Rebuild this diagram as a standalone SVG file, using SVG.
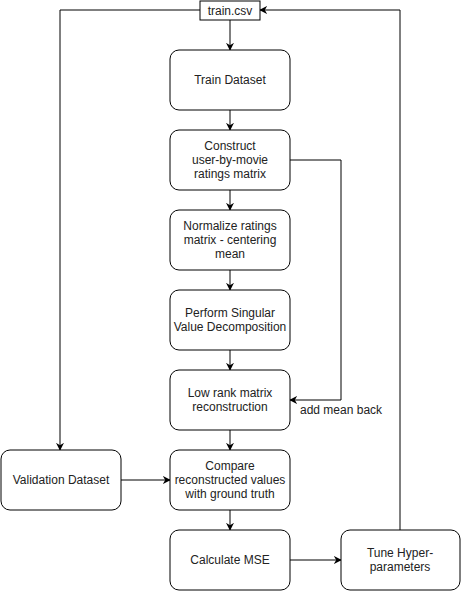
<svg xmlns="http://www.w3.org/2000/svg" width="461" height="591" viewBox="0 0 461 591">
<defs>
<marker id="ah" viewBox="0 0 10 10" refX="9" refY="5" markerWidth="8" markerHeight="8" markerUnits="userSpaceOnUse" orient="auto"><path d="M0,0 L10,5 L0,10 L3,5 Z" fill="#000"/></marker>
<style>
.n rect{fill:#fff;stroke:#000;stroke-width:1}
.n text{font-family:"Liberation Sans",Arial,sans-serif;font-size:12px;fill:#222;text-anchor:middle}
.c path{fill:none;stroke:#000;stroke-width:1;marker-end:url(#ah)}
.lbl{font-family:"Liberation Sans",Arial,sans-serif;font-size:12px;fill:#222}
</style>
</defs>
<rect width="461" height="591" fill="#fff"/>
<g class="c" id="connectors">
<path d="M230,20 V50"/>
<path d="M230,110 V130"/>
<path d="M230,190 V210"/>
<path d="M230,270 V290"/>
<path d="M230,350 V370"/>
<path d="M230,430 V450"/>
<path d="M230,510 V530"/>
<path d="M200,10 H60 V450"/>
<path d="M290,160 H341 V400 H290"/>
<path d="M121,480 H170"/>
<path d="M290,560 H341"/>
<path d="M400,530 V10 H260"/>
</g>
<text class="lbl" x="300" y="414">add mean back</text>
<g class="n" id="train_csv"><rect x="200" y="1" width="60" height="19"/><text x="230" y="15">train.csv</text></g>
<g class="n" id="train_dataset"><rect x="170" y="50" width="120" height="60" rx="9"/><text x="230" y="84">Train Dataset</text></g>
<g class="n" id="construct"><rect x="170" y="130" width="120" height="60" rx="9"/><text x="230" y="150">Construct</text><text x="230" y="164">user-by-movie</text><text x="230" y="178">ratings matrix</text></g>
<g class="n" id="normalize"><rect x="170" y="210" width="120" height="60" rx="9"/><text x="230" y="230">Normalize ratings</text><text x="230" y="244">matrix - centering</text><text x="230" y="258">mean</text></g>
<g class="n" id="svd"><rect x="170" y="290" width="120" height="60" rx="9"/><text x="230" y="317">Perform Singular</text><text x="230" y="331">Value Decomposition</text></g>
<g class="n" id="lowrank"><rect x="170" y="370" width="120" height="60" rx="9"/><text x="230" y="397">Low rank matrix</text><text x="230" y="411">reconstruction</text></g>
<g class="n" id="validation"><rect x="1" y="450" width="120" height="60" rx="9"/><text x="61" y="484">Validation Dataset</text></g>
<g class="n" id="compare"><rect x="170" y="450" width="120" height="60" rx="9"/><text x="230" y="470">Compare</text><text x="230" y="484">reconstructed values</text><text x="230" y="498">with ground truth</text></g>
<g class="n" id="mse"><rect x="170" y="530" width="120" height="60" rx="9"/><text x="230" y="564">Calculate MSE</text></g>
<g class="n" id="tune"><rect x="341" y="530" width="119" height="60" rx="9"/><text x="400" y="557">Tune Hyper-</text><text x="400" y="571">parameters</text></g>
</svg>
